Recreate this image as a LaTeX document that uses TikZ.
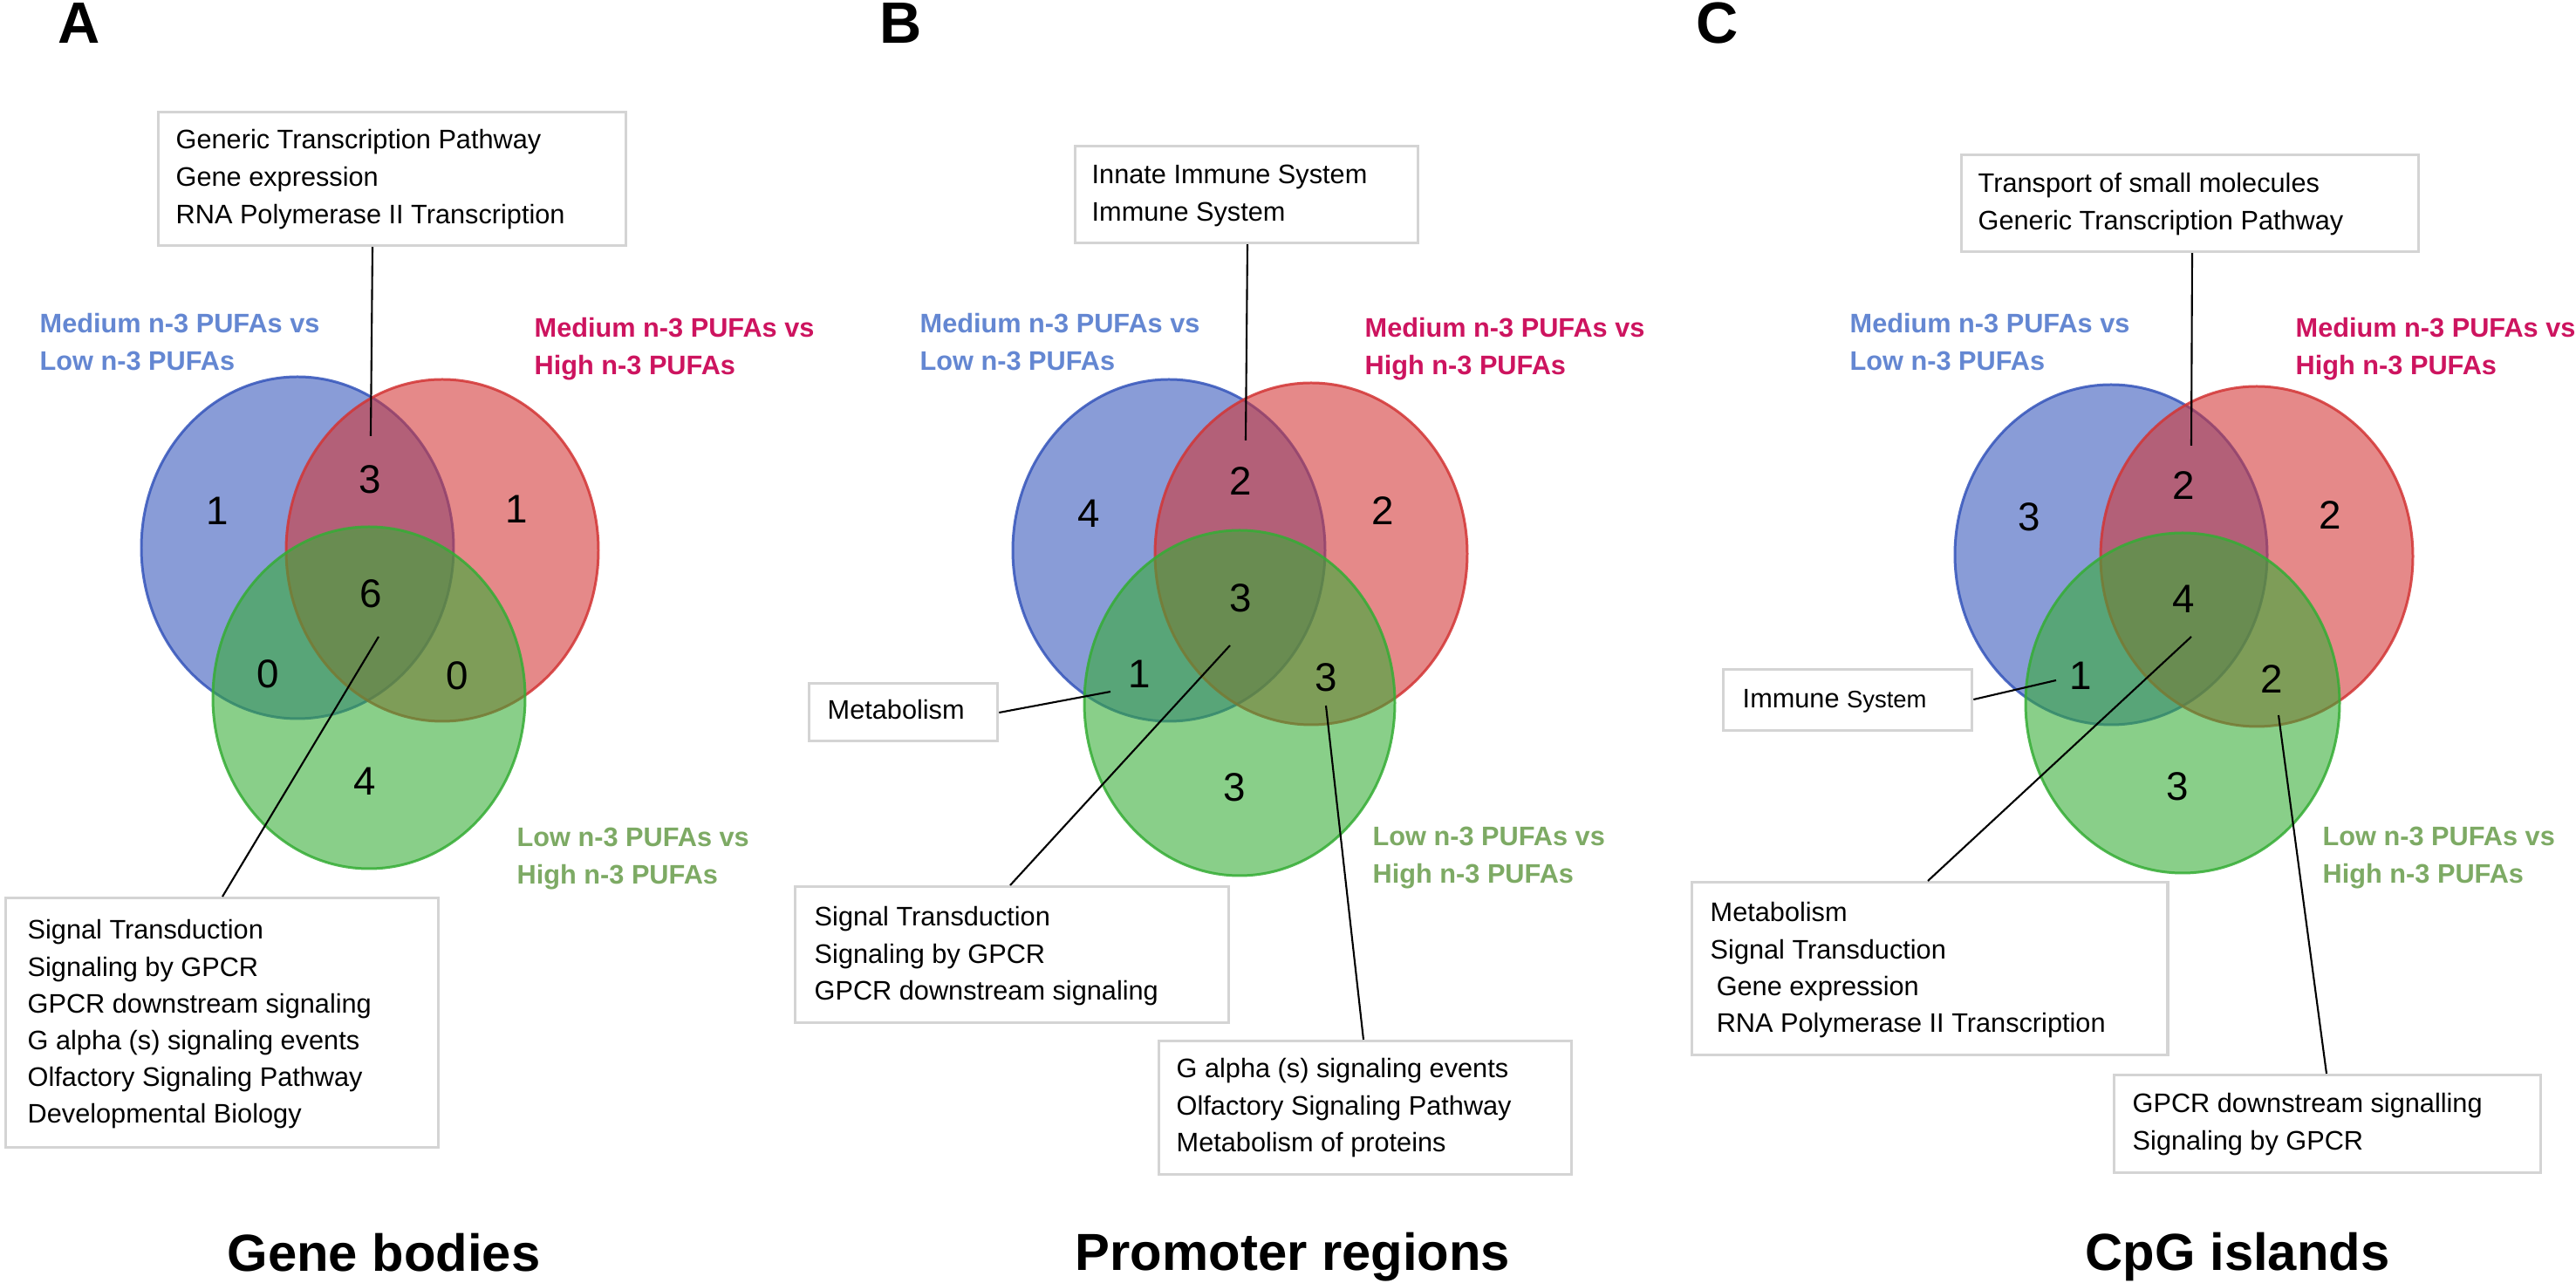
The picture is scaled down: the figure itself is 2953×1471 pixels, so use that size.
\documentclass[tikz,border=0pt]{standalone}
\usepackage{fontspec}
\setmainfont{Liberation Sans}
\usetikzlibrary{calc}
\definecolor{vblue}{RGB}{53,85,187}
\definecolor{vred}{RGB}{211,53,53}
\definecolor{vgreen}{RGB}{53,173,53}
\definecolor{lblue}{RGB}{100,135,210}
\definecolor{lred}{RGB}{205,20,95}
\definecolor{lgreen}{RGB}{125,170,100}
\definecolor{boxgray}{RGB}{212,212,212}
\newcommand{\mylines}[1]{\begin{tabular}[t]{@{}l@{}}#1\end{tabular}}
\begin{document}
\begin{tikzpicture}[x=0.01cm, y=-0.01cm,
  setb/.style={fill=vblue, draw=vblue, fill opacity=0.58, draw opacity=0.85, line width=0.85pt},
  setr/.style={fill=vred, draw=vred, fill opacity=0.58, draw opacity=0.85, line width=0.85pt},
  setg/.style={fill=vgreen, draw=vgreen, fill opacity=0.58, draw opacity=0.85, line width=0.85pt},
  num/.style={inner sep=0pt, font=\fontsize{13}{15}\selectfont},
  grp/.style={anchor=base west, inner sep=0pt, font=\bfseries\fontsize{8.73}{12.2}\selectfont},
  infobox/.style={draw=boxgray, line width=0.9pt, fill=white, inner sep=0pt, anchor=north west},
  infotext/.style={anchor=base west, inner sep=0pt, font=\fontsize{8.73}{11.95}\selectfont},
  conn/.style={line width=0.6pt, black},
  ttl/.style={anchor=base, inner sep=0pt, font=\bfseries\fontsize{17}{20}\selectfont},
  panel/.style={anchor=base west, inner sep=0pt, font=\bfseries\fontsize{19}{21}\selectfont}
]
\useasboundingbox (0,0) rectangle (2953,1471);
\fill[white] (0,0) rectangle (2953,1471);

% ---------------- Panel A ----------------
\node[panel] (letA) at (66,50) {A};
\draw[setb] (341,628) ellipse [x radius=179, y radius=196];
\draw[setr] (507,631) ellipse [x radius=179, y radius=196];
\draw[setg] (423,800) ellipse [x radius=179, y radius=196];

\node[num] (nA1) at (249,586) {1};
\node[num] (nA2) at (424,550) {3};
\node[num] (nA3) at (592,584) {1};
\node[num] (nA4) at (425,681) {6};
\node[num] (nA5) at (307,773) {0};
\node[num] (nA6) at (524,775) {0};
\node[num] (nA7) at (418,896) {4};

\node[grp, text=lblue] (gAb) at (45,382) {\mylines{Medium n-3 PUFAs vs\\Low n-3 PUFAs}};
\node[grp, text=lred] (gAr) at (612,387) {\mylines{Medium n-3 PUFAs vs\\High n-3 PUFAs}};
\node[grp, text=lgreen] (gAg) at (592,971) {\mylines{Low n-3 PUFAs vs\\High n-3 PUFAs}};

\node[infobox, minimum width=5.36cm, minimum height=1.53cm] (Atop) at (180,127) {};
\node[infotext, font=\fontsize{8.73}{12.1}\selectfont] (tAtop) at (201,171) {\mylines{Generic Transcription Pathway\\Gene expression\\RNA Polymerase II Transcription}};
\node[infobox, minimum width=4.96cm, minimum height=2.86cm] (Abot) at (5,1028) {};
\node[infotext] (tAbot) at (31,1077) {\mylines{Signal Transduction\\Signaling by GPCR\\GPCR downstream signaling\\G alpha (s) signaling events\\Olfactory Signaling Pathway\\Developmental Biology}};

\coordinate (pA2) at (425,500);
\coordinate (pA4) at (434,730);
\draw[conn] ($(Atop.south west)+(247,0)$) -- (pA2);
\draw[conn] (pA4) -- ($(Abot.north west)+(250,0)$);

\node[ttl] (tiA) at (440,1458) {Gene bodies};

% ---------------- Panel B ----------------
\node[panel] (letB) at (1008,50) {B};
\draw[setb] (1340,631) ellipse [x radius=179, y radius=196];
\draw[setr] (1503,635) ellipse [x radius=179, y radius=196];
\draw[setg] (1421,806) ellipse [x radius=178, y radius=198];

\node[num] (nB1) at (1248,589) {4};
\node[num] (nB2) at (1422,552) {2};
\node[num] (nB3) at (1585,586) {2};
\node[num] (nB4) at (1422,686) {3};
\node[num] (nB5) at (1306,773) {1};
\node[num] (nB6) at (1520,777) {3};
\node[num] (nB7) at (1415,903) {3};

\node[grp, text=lblue] (gBb) at (1054,382) {\mylines{Medium n-3 PUFAs vs\\Low n-3 PUFAs}};
\node[grp, text=lred] (gBr) at (1564,387) {\mylines{Medium n-3 PUFAs vs\\High n-3 PUFAs}};
\node[grp, text=lgreen] (gBg) at (1573,970) {\mylines{Low n-3 PUFAs vs\\High n-3 PUFAs}};

\node[infobox, minimum width=3.93cm, minimum height=1.11cm] (Btop) at (1231,166) {};
\node[infotext, font=\fontsize{8.73}{12.2}\selectfont] (tBtop) at (1251,211) {\mylines{Innate Immune System\\Immune System}};
\node[infobox, minimum width=2.16cm, minimum height=0.66cm] (Bmet) at (926,782) {};
\node[infotext] (tBmet) at (948,825) {Metabolism};
\node[infobox, minimum width=4.97cm, minimum height=1.56cm] (Bleft) at (910,1015) {};
\node[infotext] (tBleft) at (933,1062) {\mylines{Signal Transduction\\Signaling by GPCR\\GPCR downstream signaling}};
\node[infobox, minimum width=4.73cm, minimum height=1.53cm] (Bright) at (1327,1192) {};
\node[infotext] (tBright) at (1348,1236) {\mylines{G alpha (s) signaling events\\Olfactory Signaling Pathway\\Metabolism of proteins}};

\coordinate (pB2) at (1428,505);
\coordinate (pB5) at (1273,793);
\coordinate (pB4) at (1410,740);
\coordinate (pB6) at (1520,809);
\draw[conn] ($(Btop.south west)+(199,0)$) -- (pB2);
\draw[conn] ($(Bmet.north east)+(0,35)$) -- (pB5);
\draw[conn] (pB4) -- ($(Bleft.north west)+(248,0)$);
\draw[conn] (pB6) -- ($(Bright.north west)+(236,0)$);

\node[ttl] (tiB) at (1482,1457) {Promoter regions};

% ---------------- Panel C ----------------
\node[panel] (letC) at (1944,50) {C};
\draw[setb] (2420,636) ellipse [x radius=179, y radius=195];
\draw[setr] (2587,638) ellipse [x radius=179, y radius=195];
\draw[setg] (2502,806) ellipse [x radius=180, y radius=195];

\node[num] (nC1) at (2326,593) {3};
\node[num] (nC2) at (2503,557) {2};
\node[num] (nC3) at (2671,591) {2};
\node[num] (nC4) at (2503,687) {4};
\node[num] (nC5) at (2385,775) {1};
\node[num] (nC6) at (2604,779) {2};
\node[num] (nC7) at (2496,902) {3};

\node[grp, text=lblue] (gCb) at (2120,382) {\mylines{Medium n-3 PUFAs vs\\Low n-3 PUFAs}};
\node[grp, text=lred] (gCr) at (2631,387) {\mylines{Medium n-3 PUFAs vs\\High n-3 PUFAs}};
\node[grp, text=lgreen] (gCg) at (2662,970) {\mylines{Low n-3 PUFAs vs\\High n-3 PUFAs}};

\node[infobox, minimum width=5.24cm, minimum height=1.11cm] (Ctop) at (2247,176) {};
\node[infotext, font=\fontsize{8.73}{12.2}\selectfont] (tCtop) at (2267,221) {\mylines{Transport of small molecules\\Generic Transcription Pathway}};
\node[infobox, minimum width=2.85cm, minimum height=0.70cm] (Cimm) at (1974,766) {};
\node[infotext] (tCimm) at (1997,812) {Immune {\fontsize{7.8}{9}\selectfont System}};
\node[infobox, minimum width=5.45cm, minimum height=1.98cm] (Cleft) at (1938,1010) {};
\node[infotext] (tCleft) at (1960,1057) {\mylines{Metabolism\\Signal Transduction\\\hspace*{2pt}Gene expression\\\hspace*{2pt}RNA Polymerase II Transcription}};
\node[infobox, minimum width=4.89cm, minimum height=1.12cm] (Cright) at (2422,1231) {};
\node[infotext] (tCright) at (2444,1276) {\mylines{GPCR downstream signalling\\Signaling by GPCR}};

\coordinate (pC2) at (2512,511);
\coordinate (pC5) at (2357,780);
\coordinate (pC4) at (2512,730);
\coordinate (pC6) at (2612,820);
\draw[conn] ($(Ctop.south west)+(266,0)$) -- (pC2);
\draw[conn] ($(Cimm.north east)+(0,36)$) -- (pC5);
\draw[conn] (pC4) -- ($(Cleft.north west)+(272,0)$);
\draw[conn] (pC6) -- ($(Cright.north west)+(245,0)$);

\node[ttl] (tiC) at (2565,1457) {CpG islands};
\end{tikzpicture}
\end{document}
